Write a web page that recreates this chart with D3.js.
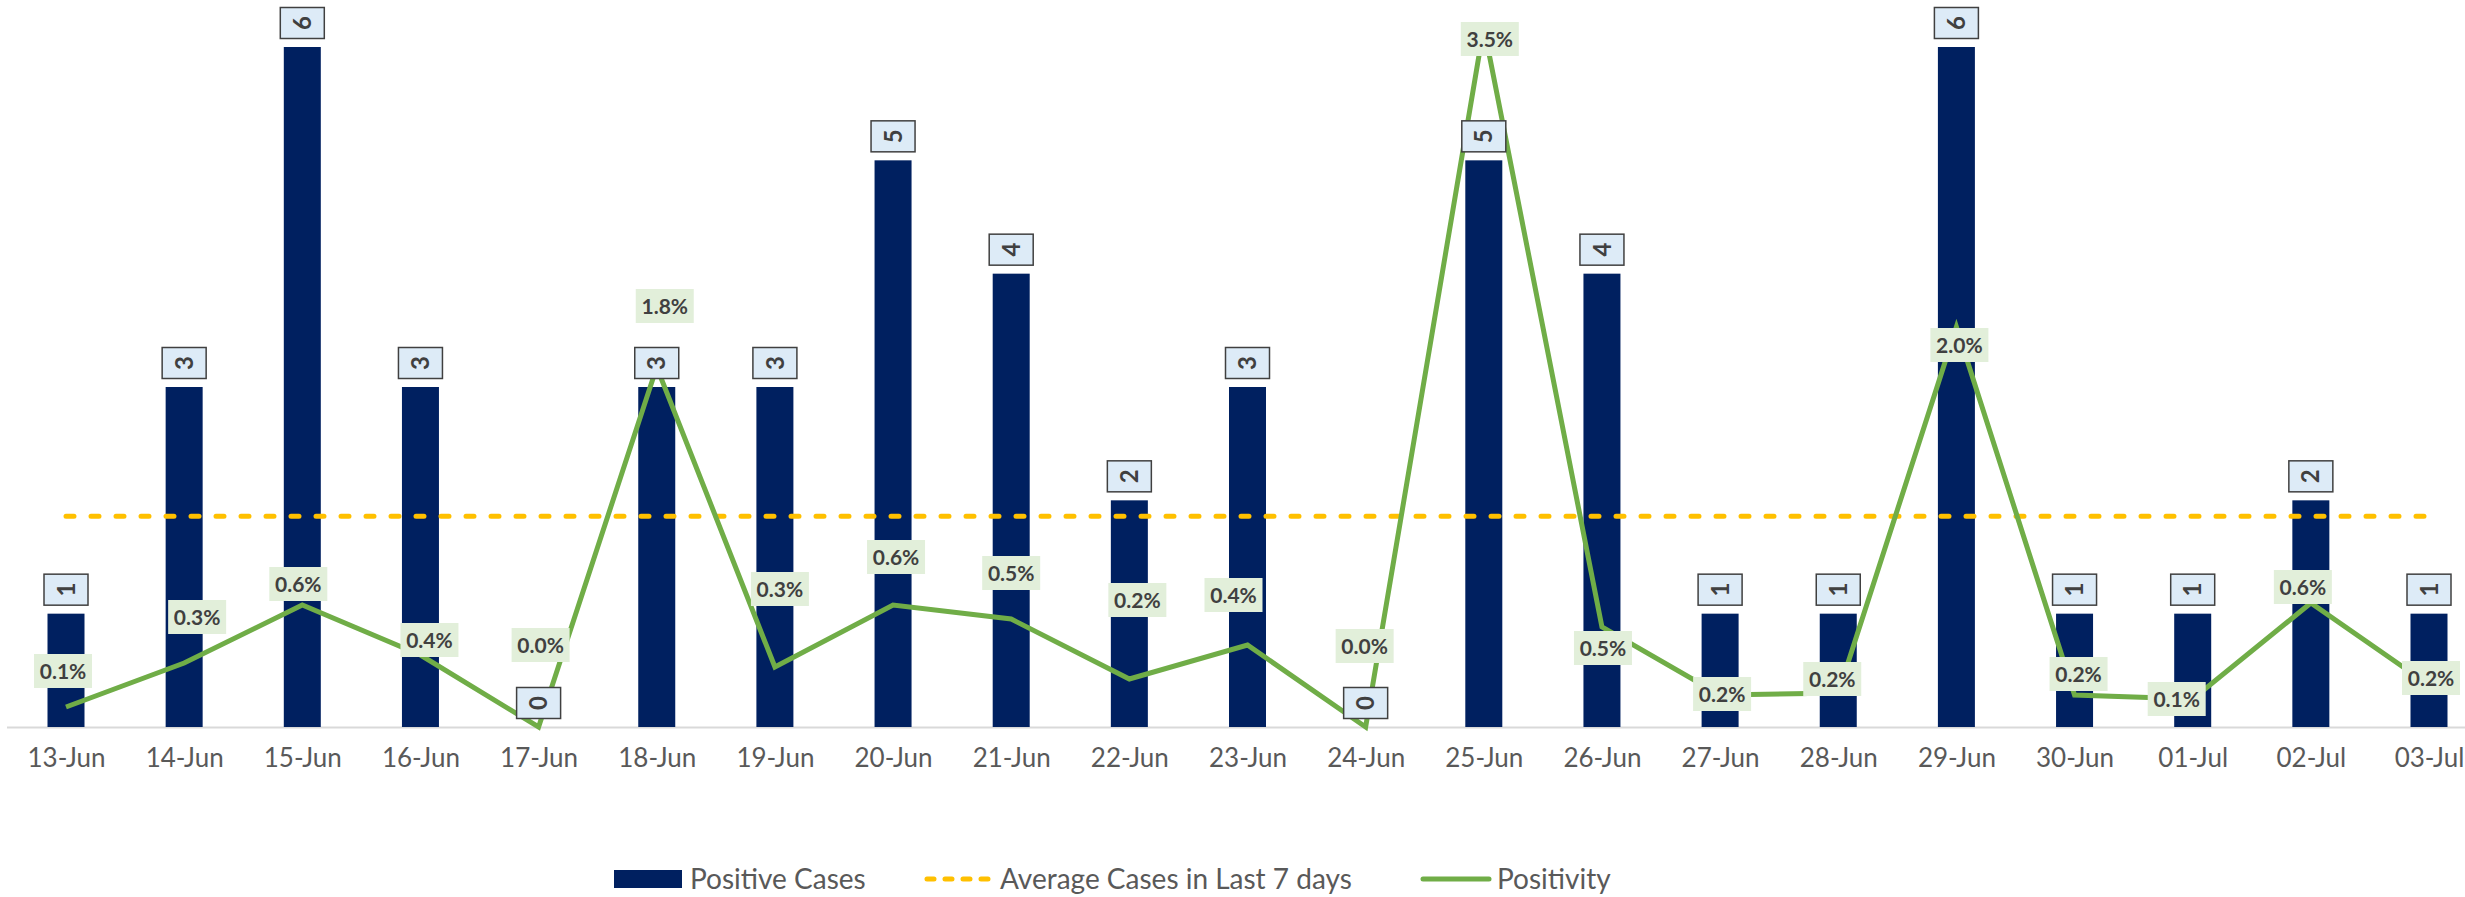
<!DOCTYPE html>
<html>
<head>
<meta charset="utf-8">
<script src="https://cdn.jsdelivr.net/npm/d3@7"></script>
<style>
  body { margin: 0; background: #fff; }
  svg { display: block; font-family: Lato, "Open Sans", sans-serif; }
</style>
</head>
<body>
<svg id="chart"></svg>
<script>
// chart data
const dates = ["13-Jun","14-Jun","15-Jun","16-Jun","17-Jun","18-Jun","19-Jun","20-Jun","21-Jun","22-Jun","23-Jun",
               "24-Jun","25-Jun","26-Jun","27-Jun","28-Jun","29-Jun","30-Jun","01-Jul","02-Jul","03-Jul"];
const positiveCases = [1,3,6,3,0,3,3,5,4,2,3,0,5,4,1,1,6,1,1,2,1];
const positivity = [0.0010,0.0032,0.0061,0.0036,0.0000,0.0180,0.0030,0.0061,0.0054,0.0024,0.0041,
                    0.0000,0.0350,0.0050,0.0016,0.0017,0.0200,0.0016,0.0014,0.0062,0.0021];
const avgLast7 = 1.86;
const legendNames = ["Positive Cases", "Average Cases in Last 7 days", "Positivity"];

// label nudges for the positivity labels (dx, dy from the point), as placed in the original
const pctLabelShift = [[-3,-36],[13,-46],[-4,-21],[9,-15],[2,-82],[8,-61],[5,-78],[3,-48],[0,-46],[8,-79],[-14,-50],
                       [-1,-81],[6,12],[1,21],[2,-1],[-6,-14],[3,18],[4,-21],[-16,0],[-8,-16],[2,-7]];
// legend symbol left edges
const legendX = [614, 924, 1421];

var svgWidth = 2465, svgHeight = 897;
var baseY = 727, barWidth = 37;
var navy = "#002060", green = "#70AD47", gold = "#FFC000", textGrey = "#595959", labelDark = "#404040";

var svg = d3.select("#chart")
    .attr("width", svgWidth)
    .attr("height", svgHeight);

var x = d3.scalePoint().domain(dates).range([66, 2429]);
var y = d3.scaleLinear().domain([0, 6]).range([baseY, 47]);
var y2 = d3.scaleLinear().domain([0, 0.035]).range([baseY, 27]);

// axis baseline
svg.append("line")
    .attr("x1", 7).attr("x2", svgWidth)
    .attr("y1", baseY + 0.5).attr("y2", baseY + 0.5)
    .attr("stroke", "#D9D9D9")
    .attr("stroke-width", 2);

// bars
svg.append("g")
    .selectAll("rect")
    .data(positiveCases)
    .enter()
    .append("rect")
    .attr("x", (d, i) => x(dates[i]) - barWidth / 2)
    .attr("y", d => y(d))
    .attr("width", barWidth)
    .attr("height", d => baseY - y(d))
    .attr("fill", navy);

// x axis labels
var xAxis = svg.append("g")
    .attr("transform", "translate(0," + baseY + ")")
    .call(d3.axisBottom(x).tickSize(0).tickPadding(22));
xAxis.select(".domain").remove();
xAxis.selectAll("text")
    .attr("fill", textGrey)
    .style("font-family", "Lato, sans-serif")
    .style("font-size", "26px");

// average line
svg.append("line")
    .attr("x1", x(dates[0]))
    .attr("x2", x(dates[dates.length - 1]))
    .attr("y1", y(avgLast7))
    .attr("y2", y(avgLast7))
    .attr("stroke", gold)
    .attr("stroke-width", 5)
    .attr("stroke-linecap", "round")
    .attr("stroke-dasharray", "8,17");

// positivity line
var line = d3.line()
    .x((d, i) => x(dates[i]))
    .y(d => y2(d));

svg.append("path")
    .datum(positivity)
    .attr("d", line)
    .attr("fill", "none")
    .attr("stroke", green)
    .attr("stroke-width", 5)
    .attr("stroke-linejoin", "miter");

// count labels (rotated)
var countLabels = svg.append("g")
    .selectAll("g")
    .data(positiveCases)
    .enter()
    .append("g")
    .attr("transform", (d, i) => "translate(" + x(dates[i]) + "," + (y(d) - 24) + ")");

countLabels.append("rect")
    .attr("x", -22).attr("y", -15.5)
    .attr("width", 44).attr("height", 31)
    .attr("fill", "#DDEBF7")
    .attr("stroke", "#404040")
    .attr("stroke-width", 1.5);

countLabels.append("text")
    .text(d => d)
    .attr("transform", "rotate(-90)")
    .attr("text-anchor", "middle")
    .attr("dy", "0.36em")
    .attr("fill", labelDark)
    .style("font-weight", "bold")
    .style("font-size", "24px");

// positivity labels
var fmt = d3.format(".1%");
var pctLabels = svg.append("g")
    .selectAll("g")
    .data(positivity)
    .enter()
    .append("g")
    .attr("transform", (d, i) => "translate(" + (x(dates[i]) + pctLabelShift[i][0]) + "," + (y2(d) + pctLabelShift[i][1]) + ")");

pctLabels.append("rect")
    .attr("x", -29).attr("y", -17)
    .attr("width", 58).attr("height", 34)
    .attr("fill", "#E2EFDA");

pctLabels.append("text")
    .text(d => fmt(d))
    .attr("text-anchor", "middle")
    .attr("dy", "0.36em")
    .attr("fill", labelDark)
    .style("font-weight", "bold")
    .style("font-size", "21px");

// legend
var legendY = 879;
legendNames.forEach(function(name, i) {
    var lx = legendX[i];
    var g = svg.append("g");
    if (i == 0) {
        g.append("rect")
            .attr("x", lx).attr("y", legendY - 9)
            .attr("width", 68).attr("height", 18)
            .attr("fill", navy);
    } else if (i == 1) {
        g.append("line")
            .attr("x1", lx + 3).attr("x2", lx + 68)
            .attr("y1", legendY).attr("y2", legendY)
            .attr("stroke", gold)
            .attr("stroke-width", 5)
            .attr("stroke-linecap", "round")
            .attr("stroke-dasharray", "7,11");
    } else {
        g.append("line")
            .attr("x1", lx + 2).attr("x2", lx + 68)
            .attr("y1", legendY).attr("y2", legendY)
            .attr("stroke", green)
            .attr("stroke-width", 5)
            .attr("stroke-linecap", "round");
    }
    g.append("text")
        .text(name)
        .attr("x", lx + 76)
        .attr("y", legendY)
        .attr("dy", "0.35em")
        .attr("fill", textGrey)
        .style("font-size", "28px");
});
</script>
</body>
</html>
